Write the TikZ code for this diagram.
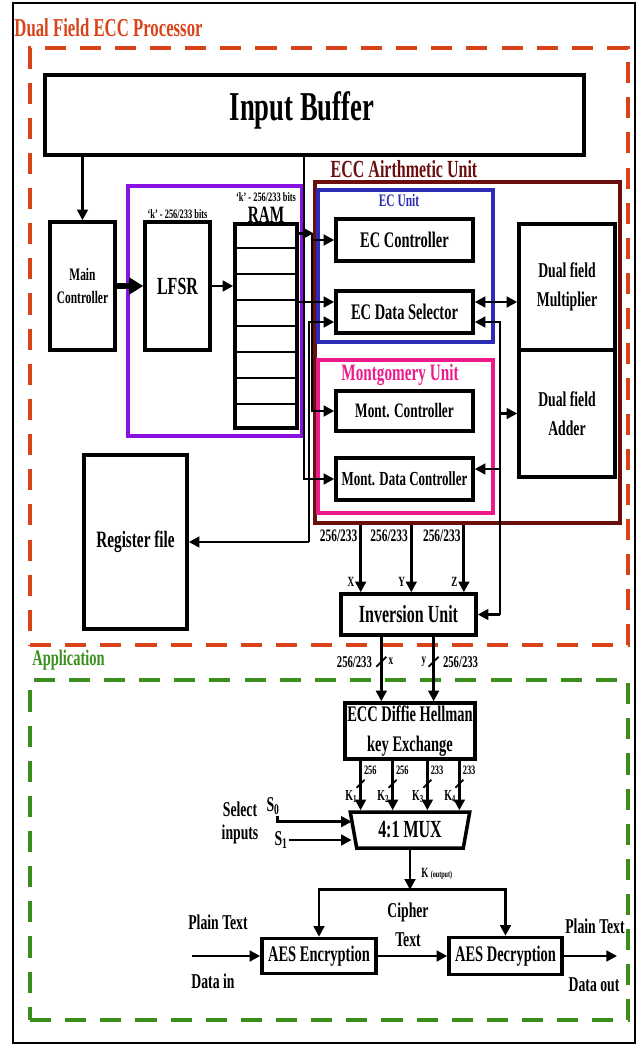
\documentclass[tikz,border=0pt]{standalone}
\usepackage{fontspec}
\setmainfont{Liberation Serif}[FakeStretch=0.65]
\usepackage{tikz}
\usetikzlibrary{positioning,arrows.meta,calc,shapes.geometric}

\definecolor{procred}{HTML}{D8431A}
\definecolor{appgreen}{HTML}{3C8E1C}
\definecolor{arithred}{HTML}{6A0E0E}
\definecolor{ecblue}{HTML}{2B2BB5}
\definecolor{montpink}{HTML}{EE1A8C}
\definecolor{lfsrpurple}{HTML}{8A12E0}

\newcommand{\fsz}[2]{\fontsize{#1}{#2}\selectfont\bfseries}

\tikzset{
  blk/.style={draw, line width=3pt, inner sep=0pt, align=center, font=\fsz{19pt}{25pt}},
  grp/.style={draw, line width=2.6pt, inner sep=0pt},
  dashbox/.style={draw, line width=4pt, dash pattern=on 18pt off 12pt, inner sep=0pt},
  wire/.style={line width=2.5pt},
  arr/.style={wire, -{Triangle[length=9pt,width=9pt]}},
  arrs/.style={wire, {Triangle[length=9pt,width=9pt]}-{Triangle[length=9pt,width=9pt]}},
  lbl/.style={inner sep=1pt, align=center, font=\fsz{18pt}{25pt}},
  tiny lbl/.style={inner sep=1pt, font=\fsz{12pt}{12pt}},
  bus/.style={line width=1.5pt},
}

\begin{document}
\begin{tikzpicture}[x=0.03cm,y=-0.03cm]
\useasboundingbox (0,0) rectangle (638,1045);
\draw[line width=1.8pt] (13,3) rectangle (635,1043);

\node[dashbox, draw=procred, minimum width=17.94cm, minimum height=17.91cm] (proc) at (329,346.5) {};
\node[text=procred, inner sep=1pt, anchor=west, font=\fsz{22pt}{22pt}] (proct) at (13,28) {Dual Field ECC Processor};
\node[dashbox, draw=appgreen, minimum width=17.94cm, minimum height=10.2cm] (app) at (329,850) {};
\node[text=appgreen, inner sep=1pt, anchor=west, font=\fsz{19pt}{19pt}] (appt) at (31,660) {Application};

\node[blk, minimum width=16.17cm, minimum height=2.4cm] (buf) at (314.5,115) {};
\node[lbl, font=\fsz{35pt}{35pt}] (buft) at (302,110) {Input Buffer};

\node[blk, minimum width=1.95cm, minimum height=3.84cm, font=\fsz{15pt}{20pt}] (mainc) at (82.5,286) {Main\\Controller};
\node[grp, draw=lfsrpurple, minimum width=5.22cm, minimum height=7.5cm] (lfsrgrp) at (215,311) {};
\node[blk, minimum width=1.95cm, minimum height=3.84cm, font=\fsz{21pt}{21pt}] (lfsr) at (177.5,286) {LFSR};
\node[blk, minimum width=1.86cm, minimum height=6.12cm] (ram) at (266,326) {};
\foreach \i in {1,...,7}
  \draw[line width=2.2pt] ($(ram.north west)!\i/8!(ram.south west)$) -- ($(ram.north east)!\i/8!(ram.south east)$);
\node[lbl, anchor=south, font=\fsz{11pt}{11pt}] (lfsrbits) at (lfsr.north) {`k' - 256/233 bits};
\node[lbl, anchor=south, inner sep=0pt, font=\fsz{20pt}{20pt}] (ramt) at (ram.north) {RAM};
\node[lbl, anchor=south, inner sep=0pt, font=\fsz{11pt}{11pt}] (rambits) at ([yshift=4pt]ramt.north) {`k' - 256/233 bits};

\node[blk, minimum width=3.09cm, minimum height=5.22cm, font=\fsz{20pt}{20pt}] (regf) at (135.5,542) {Register file};

\node[grp, draw=arithred, minimum width=9.15cm, minimum height=10.23cm] (arith) at (467.5,352.5) {};
\node[text=arithred, inner sep=1pt, font=\fsz{21pt}{21pt}] (aritht) at (404,169) {ECC Airthmetic Unit};
\node[grp, draw=ecblue, minimum width=5.25cm, minimum height=4.56cm] (ecu) at (405.5,266) {};
\node[text=ecblue, inner sep=1pt, font=\fsz{15pt}{15pt}] (ecut) at (399,200) {EC Unit};
\node[grp, draw=montpink, minimum width=5.25cm, minimum height=4.59cm] (mgu) at (405.5,436.5) {};
\node[text=montpink, inner sep=1pt, font=\fsz{20pt}{20pt}] (mgut) at (400,375) {Montgomery Unit};

\node[blk, minimum width=4.11cm, minimum height=1.26cm] (ecctl) at (404.5,240) {EC Controller};
\node[blk, minimum width=4.11cm, minimum height=1.26cm] (ecsel) at (404.5,312) {EC Data Selector};
\node[blk, minimum width=4.11cm, minimum height=1.2cm, font=\fsz{17.5pt}{20pt}] (mctl) at (404.5,411) {Mont. Controller};
\node[blk, minimum width=4.11cm, minimum height=1.26cm, font=\fsz{17pt}{20pt}] (mdat) at (404.5,479) {Mont. Data Controller};
\node[blk, minimum width=2.88cm, minimum height=3.78cm, font=\fsz{18pt}{25pt}] (mult) at (567,287) {Dual field\\Multiplier};
\node[blk, minimum width=2.88cm, minimum height=3.81cm, font=\fsz{18pt}{25pt}] (adder) at (567,413.5) {Dual field\\Adder};

\node[blk, minimum width=4.05cm, minimum height=1.23cm, font=\fsz{21pt}{21pt}] (inv) at (408.5,614.5) {Inversion Unit};

\coordinate (busL) at (304,0);
\coordinate (busM) at (309,0);
\coordinate (busA) at (312,0);
\coordinate (busR) at (500,0);
\coordinate (ramo) at ([yshift=-0.33cm]ram.north east);

\draw[arr] (buf.south -| mainc.north) -- (mainc.north);
\draw[line width=5pt, -{Triangle[length=12pt,width=14pt]}] (mainc.east) -- (lfsr.west);
\draw[arr] (lfsr.east) -- (lfsr.east -| ram.west);
\draw[arr] (ramo) -- (ramo -| arith.west);
\draw[arr] (ramo -| busA) |- (ecctl.west);
\draw[arr] (ramo -| busA) |- (mctl.west);
\draw[arr] ([yshift=0.3cm]ecsel.west -| ram.east) -- ([yshift=0.3cm]ecsel.west);
\draw[arr] (regf.east -| busM) |- ([yshift=-0.3cm]ecsel.west);
\draw[arr] (regf.east -| busM) -- (regf.east);
\draw[arr] (buf.south -| busL) |- (mdat.west);

\draw[arrs] ([yshift=0.3cm]ecsel.east) -- ([yshift=0.3cm]ecsel.east -| mult.west);
\draw[arr] (inv.east -| busR) |- ([yshift=-0.3cm]ecsel.east);
\draw[arr] (inv.east -| busR) -- (inv.east);
\draw[arr] (adder.west -| busR) -- (adder.west);
\draw[arr] ([yshift=0.3cm]mdat.east -| busR) -- ([yshift=0.3cm]mdat.east);

\foreach \n/\f/\v in {1/0.155/X, 2/0.52/Y, 3/0.9/Z} {
  \coordinate (i\n) at ($(inv.north west)!\f!(inv.north east)$);
  \draw[arr] (i\n |- arith.south) -- (i\n);
  \node[lbl, anchor=north east, font=\fsz{15pt}{15pt}] (iw\n) at ($(i\n |- arith.south)+(-2,4)$) {256/233};
  \node[tiny lbl, anchor=east] (iv\n) at ($(i\n)+(-5,-10)$) {\v};
}

\node[blk, minimum width=3.9cm, minimum height=1.68cm, font=\fsz{19pt}{26pt}] (dh) at (410,731) {ECC Diffie Hellman\\key Exchange};

\coordinate (o1) at ($(dh.north west)!0.285!(dh.north east)$);
\coordinate (o2) at ($(dh.north west)!0.677!(dh.north east)$);
\draw[arr] (o1 |- inv.south) -- (o1);
\draw[arr] (o2 |- inv.south) -- (o2);
\draw[bus] ($(o1 |- inv.south)+(-5,30)$) -- ++(10,-10);
\draw[bus] ($(o2 |- inv.south)+(-5,30)$) -- ++(10,-10);
\node[lbl, anchor=east, font=\fsz{14pt}{14pt}] (ow1) at ($(o1 |- inv.south)+(-8,25)$) {256/233};
\node[tiny lbl, anchor=west] (ox1) at ($(o1 |- inv.south)+(6,25)$) {x};
\node[tiny lbl, anchor=east] (oy2) at ($(o2 |- inv.south)+(-6,25)$) {y};
\node[lbl, anchor=west, font=\fsz{14pt}{14pt}] (ow2) at ($(o2 |- inv.south)+(8,25)$) {256/233};

\node[draw, line width=3pt, trapezium, trapezium stretches=true, trapezium left angle=77, trapezium right angle=77, shape border rotate=180, minimum width=3.6cm, minimum height=1.08cm, inner sep=0pt, font=\fsz{21pt}{21pt}] (mux) at (410,830) {4:1 MUX};

\foreach \n/\f/\w in {1/0.13/256, 2/0.37/256, 3/0.63/233, 4/0.87/233} {
  \coordinate (k\n) at ($(dh.south west)!\f!(dh.south east)$);
  \draw[arr] (k\n) -- (k\n |- mux.north);
  \draw[bus] ($(k\n)+(-4,27)$) -- ++(8,-8);
  \node[tiny lbl, anchor=west, font=\fsz{11pt}{11pt}] (kw\n) at ($(k\n)+(2,10)$) {\w};
  \node[tiny lbl, anchor=east, font=\fsz{13pt}{13pt}] (kk\n) at ($(k\n |- mux.north)+(-2,-14)$) {K\textsubscript{\n}};
}

\node[lbl, font=\fsz{18pt}{20pt}] (sel) at (240,823) {Select\\inputs};
\node[lbl, font=\fsz{18pt}{18pt}] (s0) at (273,806) {S\textsubscript{0}};
\node[lbl, font=\fsz{18pt}{18pt}] (s1) at (281,840) {S\textsubscript{1}};
\draw[arr] ([xshift=-3pt]s0.south east) |- ([yshift=0.25cm]mux.west);
\draw[arr] (s1.east) -- (s1.east -| mux.west);

\node[blk, minimum width=3.42cm, minimum height=1.05cm] (enc) at (319,956) {AES Encryption};
\node[blk, minimum width=3.39cm, minimum height=1.11cm] (dec) at (505.5,956) {AES Decryption};

\coordinate (kbar) at ($(mux.south)+(0,40)$);
\coordinate (din) at (192,956);
\coordinate (dout) at (617,956);
\draw[arr] (mux.south) -- (kbar);
\node[tiny lbl, anchor=west] (kout) at ($(mux.south)+(10,24)$) {K {\fsz{8pt}{8pt}(output)}};
\draw[arr] (kbar) -| (enc.north);
\draw[arr] (kbar) -| (dec.north);
\draw[arr] (enc.east) -- (dec.west);
\draw[arr] (din) -- (enc.west);
\draw[arr] (dec.east) -- (dout);

\node[lbl] (ciph) at (408,925) {Cipher\\Text};
\node[lbl] (ptin) at (218,922) {Plain Text};
\node[lbl] (datin) at (213,981) {Data in};
\node[lbl] (ptout) at (595,926) {Plain Text};
\node[lbl] (datout) at (594,985) {Data out};
\end{tikzpicture}
\end{document}
